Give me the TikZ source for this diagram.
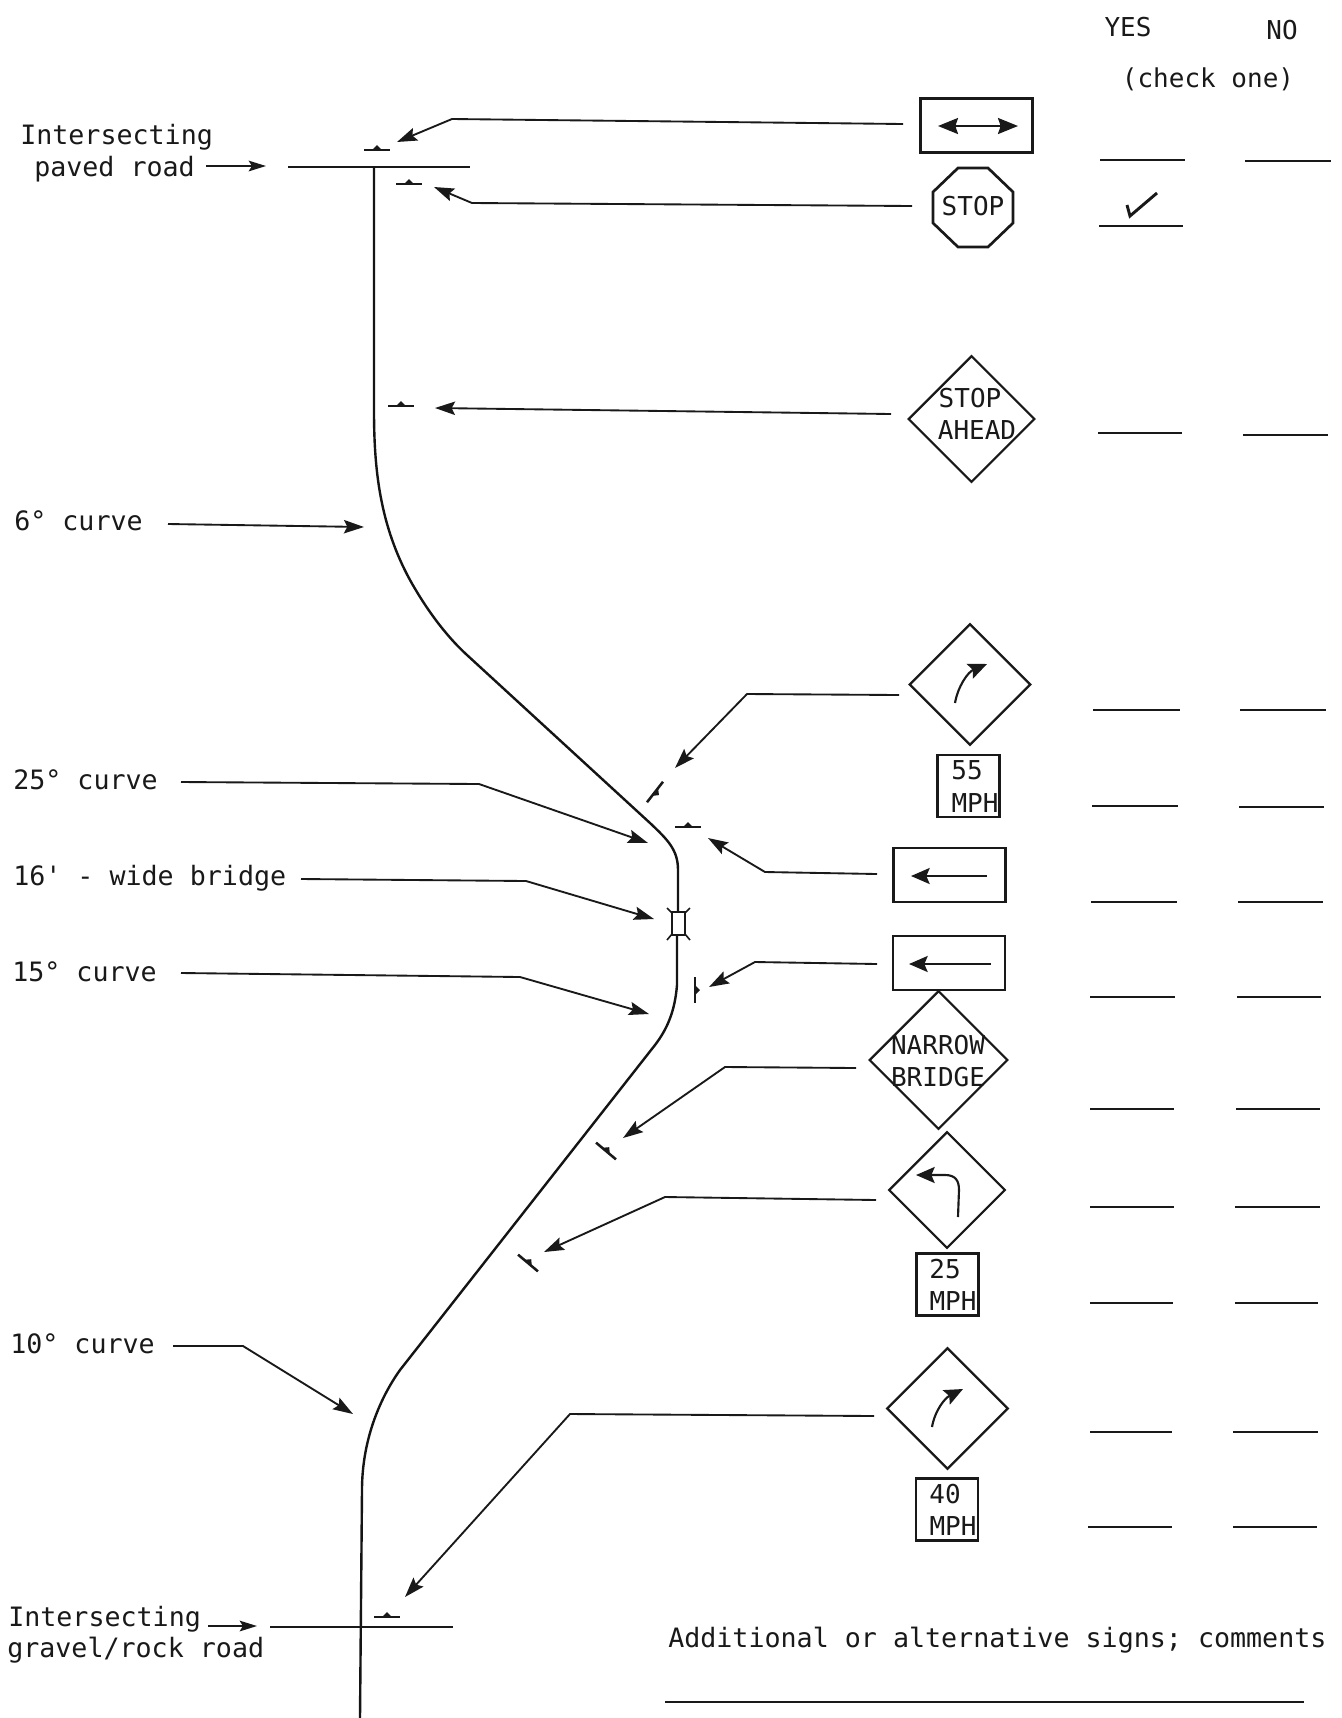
\documentclass[tikz,border=0pt]{standalone}
\usepackage{fontspec}
\setmainfont{DejaVu Sans Mono}
\usetikzlibrary{arrows.meta,shapes.geometric,calc}
\tikzset{
  ln/.style={line width=1.4pt,black!90},
  leader/.style={ln,-{Stealth[length=15pt,width=10pt,inset=2.5pt]},line join=round},
  lab/.style={inner sep=0pt,anchor=mid west,font=\fontsize{20}{20}\selectfont,text=black!90},
  slab/.style={inner sep=0pt,anchor=center,font=\fontsize{19.5}{20}\selectfont,text=black!90},
  blank/.style={ln,line width=1.2pt},
  signrect/.style={draw=black!90,line width=2pt,inner sep=0pt,minimum width=84pt,minimum height=40.5pt},
  signdia/.style={diamond,draw=black!90,line width=1.7pt,inner sep=0pt,aspect=1,minimum size=#1},
  signbox/.style={draw=black!90,line width=1.7pt,inner sep=0pt,minimum width=46.5pt,minimum height=46.5pt},
  mk/.pic={\draw[line width=1.9pt,black!90] (-13,0)--(13,0); \fill[black!90] (-5,0)--(0,-5)--(5,0)--cycle;},
  signarrow/.style={line width=1.6pt,black!90,-{Stealth[length=14pt,width=12pt,inset=2.5pt]}},
  road/.style={line width=1.8pt,black!92,line join=round},
}
\begin{document}
\begin{tikzpicture}[x=0.75pt,y=-0.75pt]
\useasboundingbox (0,0) rectangle (1342,1718);
\fill[white] (0,0) rectangle (1342,1718);

% header
\node[slab] (yes) at (1128,27) {YES};
\node[slab] (no) at (1282,30) {NO};
\node[slab] (chk) at (1208,79) {(check one)};

% road
\draw[ln] (288,167) -- (470,167);
\draw[road] (374,167) -- (374,411)
  .. controls (374,470) and (380,525) .. (410,580)
  .. controls (425,607) and (445,635) .. (467,655)
  -- (650,823) .. controls (668,840) and (678,850) .. (678,870) -- (678,912);
\draw[road] (677,936) -- (677,985)
  .. controls (675,1010) and (668,1028) .. (655,1045)
  -- (400,1370) .. controls (380,1398) and (362,1440) .. (362,1490) -- (360,1718);
\draw[ln] (270,1627) -- (453,1627);
% bridge
\draw[line width=1.2pt,black!90] (672,912) rectangle (685,935);
\draw[line width=1.2pt,black!90] (667,908)--(672,913) (690,908)--(685,913) (667,940)--(672,934) (690,940)--(685,934);

% small sign marks
\pic at (377,150) {mk};
\pic at (409,184) {mk};
\pic at (401,406) {mk};
\pic[rotate=232] at (655,792) {mk};
\pic at (688,827) {mk};
\pic[rotate=-90] at (695,990) {mk};
\pic[rotate=-40] at (606,1151) {mk};
\pic[rotate=-40] at (528,1263) {mk};
\pic at (387,1617) {mk};

% left labels
\node[lab] (ipr) at (20,141) {Intersecting};
\node[lab] (pr) at (34,173) {paved road};
\node[lab] (c6) at (14,527) {6° curve};
\node[lab] (c25) at (13,786) {25° curve};
\node[lab] (br16) at (13,882) {16\textquotesingle{} - wide bridge};
\node[lab] (c15) at (12,978) {15° curve};
\node[lab] (c10) at (10,1350) {10° curve};
\node[lab] (igr) at (8,1623) {Intersecting};
\node[lab] (gr) at (7,1654) {gravel/rock road};
\node[lab] (add) at (668,1644) {Additional or alternative signs; comments};

% signs
\node[signrect] (s1) at (976.5,125.5) {};
\draw[line width=1.6pt,black!90,{Stealth[length=15pt,width=12pt,inset=2pt]}-{Stealth[length=15pt,width=12pt,inset=2pt]}] (938,126) -- (1018,126);

\draw[line width=2pt,black!90] (958,168) -- (988,168) -- (1013,192) -- (1013,223) -- (988,247) -- (958,247) -- (933,223) -- (933,192) -- cycle;
\node[slab] (stop) at (973,206) {STOP};

\node[signdia=95pt] (d1) at (971.5,419) {};
\node[slab] (t1a) at (970,398) {STOP};
\node[slab] (t1b) at (977,430) {AHEAD};

\node[signdia=91pt] (d2) at (970,684.5) {};
\draw[signarrow] (955,703) .. controls (958,686) and (968,672) .. (987,664);

\node[signbox] (b55) at (968.5,786) {};
\node[slab] (t55) at (967,770) {55};
\node[slab] (m55) at (975,803) {MPH};

\node[signrect] (s2) at (949.5,875) {};
\draw[signarrow] (987,876) -- (911,876);
\node[signrect] (s3) at (949,963) {};
\draw[signarrow] (991,964) -- (909,964);

\node[signdia=104pt] (d3) at (938.5,1060) {};
\node[slab] (t3a) at (938,1045) {NARROW};
\node[slab] (t3b) at (938,1077) {BRIDGE};

\node[signdia=87.5pt] (d4) at (947,1190) {};
\draw[signarrow] (958,1217) -- (959,1190) .. controls (959,1180) and (955,1175) .. (945,1175) -- (916,1175);
\node[signbox] (b25) at (947.5,1284.5) {};
\node[slab] (t25) at (945,1269) {25};
\node[slab] (m25) at (953,1301) {MPH};

\node[signdia=91pt] (d5) at (947.5,1408.5) {};
\draw[signarrow] (932,1427) .. controls (935,1410) and (945,1398) .. (963,1389);
\node[signbox] (b40) at (947,1509.5) {};
\node[slab] (t40) at (945,1494) {40};
\node[slab] (m40) at (953,1526) {MPH};

% label leaders
\coordinate (e1) at (266,166);
\coordinate (e2) at (364,527);
\coordinate (e3) at (648,843);
\coordinate (e4) at (654,919);
\coordinate (e5) at (649,1014);
\coordinate (e6) at (353,1414);
\coordinate (e7) at (257,1626);
\draw[ln,-{Stealth[length=13pt,width=8pt,inset=2.5pt]}] (206,166) -- (e1);
\draw[leader] (168,524) -- (e2);
\draw[leader] (181,782) -- (479,784) -- (e3);
\draw[leader] (301,879) -- (526,881) -- (e4);
\draw[leader] (181,973) -- (520,977) -- (e5);
\draw[leader] (173,1346) -- (243,1346) -- (e6);
\draw[ln,-{Stealth[length=13pt,width=8pt,inset=2.5pt]}] (208,1626) -- (e7);

% sign leaders
\coordinate (t1) at (397,142);
\coordinate (t2) at (434,187);
\coordinate (t3) at (435,408);
\coordinate (t4) at (675,768);
\coordinate (t5) at (708,838);
\coordinate (t6) at (709,987);
\coordinate (t7) at (623,1138);
\coordinate (t8) at (544,1252);
\coordinate (t9) at (405,1597);
\draw[leader] (903,124) -- (452,119) -- (t1);
\draw[leader] (912,206) -- (472,203) -- (t2);
\draw[leader] (891,414) -- (t3);
\draw[leader] (899,695) -- (747,694) -- (t4);
\draw[leader] (877,874) -- (765,872) -- (t5);
\draw[leader] (877,964) -- (755,962) -- (t6);
\draw[leader] (856,1068) -- (725,1067) -- (t7);
\draw[leader] (876,1200) -- (665,1197) -- (t8);
\draw[leader] (874,1416) -- (570,1414) -- (t9);

% blanks
\draw[blank] (1100,160)--(1185,160) (1245,161)--(1331,161);
\draw[blank] (1099,226)--(1183,226);
\draw[line width=2.2pt,black!90] (1127,205)--(1130,216)--(1157,193);
\draw[blank] (1098,433)--(1182,433) (1243,435)--(1328,435);
\draw[blank] (1093,710)--(1180,710) (1240,710)--(1326,710);
\draw[blank] (1092,806)--(1178,806) (1239,807)--(1324,807);
\draw[blank] (1091,902)--(1177,902) (1238,902)--(1323,902);
\draw[blank] (1090,997)--(1175,997) (1237,997)--(1321,997);
\draw[blank] (1090,1109)--(1174,1109) (1236,1109)--(1320,1109);
\draw[blank] (1090,1207)--(1174,1207) (1235,1207)--(1320,1207);
\draw[blank] (1090,1303)--(1173,1303) (1235,1303)--(1318,1303);
\draw[blank] (1090,1432)--(1172,1432) (1233,1432)--(1318,1432);
\draw[blank] (1088,1527)--(1172,1527) (1233,1527)--(1317,1527);
\draw[blank] (665,1702)--(1304,1702);
\end{tikzpicture}
\end{document}
